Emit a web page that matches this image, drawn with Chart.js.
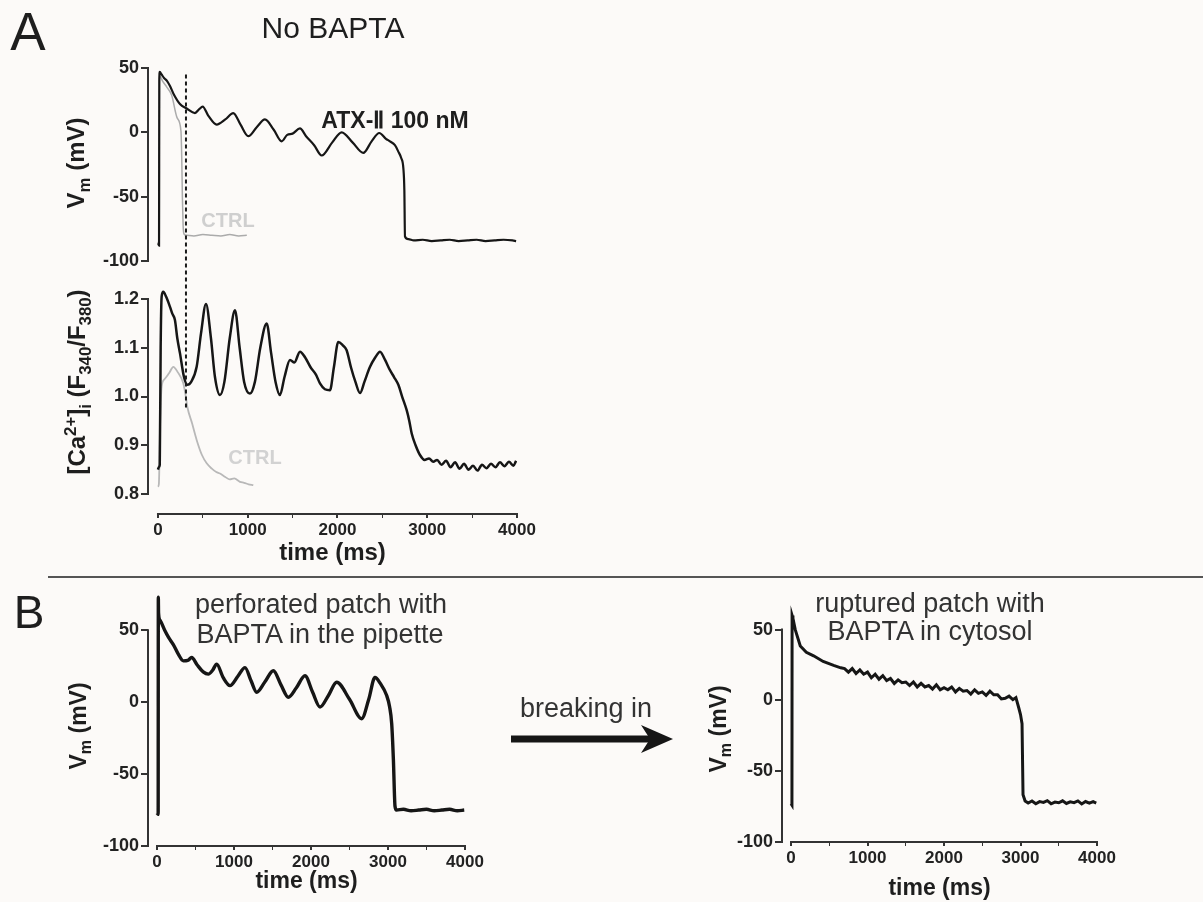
<!DOCTYPE html>
<html>
<head>
<meta charset="utf-8">
<script src="https://cdn.jsdelivr.net/npm/chart.js@4.4.1/dist/chart.umd.min.js"></script>
<style>
    html, body { margin: 0; padding: 0; background: #fcfaf8; }
    #page { position: relative; width: 1203px; height: 902px; overflow: hidden;
            font-family: "Liberation Sans", Arial, sans-serif; color: #1e1e1e; }
    canvas { position: absolute; }
    .lbl { position: absolute; white-space: nowrap; line-height: 1; transform: translate(-50%, -50%); }
    .rot { transform: translate(-50%, -50%) rotate(-90deg); font-weight: bold; }
    .rot sub, .rot sup { font-size: 70%; line-height: 0; }
    .sep { position: absolute; left: 48px; top: 576px; width: 1155px; height: 2px; background: #555; }
</style>
</head>
<body>
<div id="page">
    <canvas id="chartA" width="560" height="570" style="left:0;top:0"></canvas>
    <canvas id="chartB1" width="500" height="320" style="left:0;top:580px"></canvas>
    <canvas id="chartB2" width="520" height="322" style="left:600px;top:580px"></canvas>

    <div class="lbl" style="left:28px;top:31px;font-size:53px">A</div>
    <div class="lbl" style="left:333px;top:28px;font-size:30px">No BAPTA</div>
    <div class="lbl" style="left:395px;top:120px;font-size:23px;font-weight:bold">ATX-Ⅱ 100 nM</div>
    <div class="lbl" style="left:228px;top:220px;font-size:20px;font-weight:bold;color:#cfcfcf">CTRL</div>
    <div class="lbl" style="left:255px;top:457px;font-size:20px;font-weight:bold;color:#d2d2d2">CTRL</div>
    <div class="lbl rot" style="left:76px;top:163px;font-size:24px">V<sub>m</sub> (mV)</div>
    <div class="lbl rot" style="left:77px;top:382px;font-size:24px">[Ca<sup>2+</sup>]<sub>i</sub> (F<sub>340</sub>/F<sub>380</sub>)</div>

    <div class="sep"></div>

    <div class="lbl" style="left:29px;top:612px;font-size:46px">B</div>
    <div class="lbl" style="left:321px;top:604px;font-size:27px;color:#333">perforated patch with</div>
    <div class="lbl" style="left:320px;top:634px;font-size:27px;color:#333">BAPTA in the pipette</div>
    <div class="lbl rot" style="left:78px;top:726px;font-size:23px">V<sub>m</sub> (mV)</div>
    <div class="lbl" style="left:586px;top:708px;font-size:27px;color:#333">breaking in</div>
    <svg style="position:absolute;left:500px;top:720px" width="180" height="40">
        <rect x="11" y="15.5" width="140" height="7" fill="#161616"></rect>
        <polygon points="173,19 141,5 150,19 141,33" fill="#161616"></polygon>
    </svg>
    <div class="lbl" style="left:930px;top:603px;font-size:27px;color:#333">ruptured patch with</div>
    <div class="lbl" style="left:930px;top:631px;font-size:27px;color:#333">BAPTA in cytosol</div>
    <div class="lbl rot" style="left:718px;top:729px;font-size:23px">V<sub>m</sub> (mV)</div>
</div>

<script>
// ---- panel A: no BAPTA, ATX-II 100 nM vs control ----
const atxVmTime = [0, 12, 15, 20, 40, 70, 100, 134, 180, 245, 320, 412, 460, 498, 560, 654, 750, 839, 920, 1006,
    1100, 1192, 1290, 1378, 1440, 1500, 1582, 1650, 1740, 1824, 1940, 2047, 2170, 2288, 2380, 2466, 2540, 2585, 2640, 2678,
    2710, 2734, 2745, 2752, 2790, 2850, 2950, 3050, 3150, 3250, 3350, 3450, 3550, 3650, 3750, 3850, 3950, 3990];
const atxVm = [-86, -88, 40, 47, 45, 42, 40, 36, 29, 22, 18.5, 15, 18, 20, 13, 6, 10, 15, 6, -3,
    4, 10, 2, -7, -2, -1, 3, -3, -10, -18, -8, 0, -8, -16, -7, -0.5, -5, -7, -10, -15,
    -20, -28, -45, -81, -83, -84, -83.5, -84.5, -84, -83.5, -84.5, -84, -83.5, -84.5, -84, -83.5, -84, -84.5];

const ctrlVmTime = [0, 12, 15, 20, 50, 100, 152, 215, 256, 265, 272, 280, 290, 320, 400, 500, 600, 700, 800, 900, 990];
const ctrlVm = [-85, -87, 38, 44, 40, 35, 29, 11, 1, -20, -50, -72, -79, -80, -80.5, -79.5, -80, -80.5, -79.5, -80.5, -80];

const atxCaTime = [0, 10, 20, 30, 41, 59, 90, 134, 160, 189, 215, 245, 290, 327, 370, 431, 480, 535, 590, 635,
    691, 740, 800, 858, 910, 960, 1025, 1080, 1140, 1211, 1260, 1310, 1359, 1410, 1471, 1520, 1582, 1640, 1700, 1760,
    1805, 1860, 1916, 1960, 2009, 2060, 2102, 2150, 2200, 2251, 2300, 2360, 2420, 2474, 2530, 2585, 2630, 2678, 2720, 2771,
    2800, 2827, 2870, 2919, 2970, 3020, 3067, 3110, 3160, 3210, 3260, 3310, 3360, 3410, 3460, 3510, 3560, 3610, 3660, 3710,
    3760, 3810, 3860, 3910, 3960, 3990];
const atxCa = [0.85, 0.855, 0.86, 1.1, 1.205, 1.215, 1.205, 1.184, 1.17, 1.157, 1.12, 1.089, 1.04, 1.024, 1.03, 1.061, 1.13, 1.19, 1.12, 1.04,
    1.003, 1.03, 1.12, 1.177, 1.1, 1.03, 1.006, 1.03, 1.1, 1.15, 1.09, 1.03, 1.003, 1.04, 1.075, 1.07, 1.092, 1.08, 1.06, 1.045,
    1.027, 1.015, 1.013, 1.06, 1.112, 1.105, 1.095, 1.06, 1.03, 1.007, 1.03, 1.06, 1.08, 1.092, 1.075, 1.054, 1.04, 1.024, 1.0, 0.972,
    0.95, 0.924, 0.9, 0.88, 0.87, 0.873, 0.866, 0.87, 0.86, 0.868, 0.855, 0.865, 0.852, 0.862, 0.85, 0.858, 0.848, 0.86, 0.853, 0.862,
    0.855, 0.865, 0.857, 0.866, 0.858, 0.868];

const ctrlCaTime = [0, 10, 25, 41, 70, 97, 130, 171, 220, 282, 310, 327, 380, 431, 490, 543, 600, 650, 691, 750, 800, 850, 914, 960, 1010, 1062];
const ctrlCa = [0.815, 0.82, 0.95, 1.02, 1.035, 1.041, 1.05, 1.061, 1.05, 1.027, 1.0, 0.979, 0.945, 0.911, 0.88, 0.863, 0.852, 0.845, 0.842, 0.835,
    0.83, 0.832, 0.825, 0.823, 0.82, 0.818];

// dotted marker across both A panels
const dashTime = 312;
const dashVm = 45;
const dashCa = 0.975;

// ---- panel B: perforated patch, then ruptured patch ----
const perfTime = [0, 15, 17, 20, 39, 100, 150, 212, 280, 342, 400, 450, 520, 600, 667, 720, 775, 860, 948, 1050,
    1143, 1220, 1294, 1400, 1511, 1610, 1706, 1810, 1922, 2020, 2117, 2230, 2333, 2500, 2658, 2750, 2831, 2900, 2983, 3020,
    3048, 3070, 3091, 3110, 3200, 3300, 3400, 3500, 3600, 3700, 3800, 3900, 3990];
const perfVm = [-77, -78, 73, 62, 57, 50, 45, 40, 33, 28.7, 29, 31, 26, 21, 19.5, 22, 26.4, 17, 11.5, 18,
    24, 15, 6.9, 14, 21.8, 12, 3.4, 10, 18.3, 7, -3.4, 5, 13.8, 2, -11.5, 2, 17.2, 13, 4.6, -3,
    -15, -40, -72.4, -75, -74.5, -75.5, -75, -74.5, -75.5, -75, -74.5, -75.5, -75];

const rupTime = [0, 12, 14, 25, 56, 121, 200, 295, 420, 557, 650, 700, 750, 800, 850, 900, 950, 1000, 1050, 1100,
    1150, 1200, 1250, 1300, 1350, 1400, 1450, 1500, 1550, 1600, 1650, 1700, 1750, 1800, 1850, 1900, 1950, 2000, 2050, 2100,
    2150, 2200, 2250, 2300, 2350, 2400, 2450, 2500, 2550, 2600, 2650, 2700, 2750, 2800, 2850, 2900, 2940, 2976, 3000, 3020,
    3033, 3060, 3100, 3150, 3200, 3250, 3300, 3350, 3400, 3450, 3500, 3550, 3600, 3650, 3700, 3750, 3800, 3850, 3900, 3950, 3990];
const rupVm = [-73, -74, 60, 58, 49.8, 38.4, 34, 31.5, 27.5, 24.7, 23, 22.5, 20, 22.5, 19, 21.5, 18.5, 20, 16, 18.5,
    15, 17.5, 14, 15.5, 12, 14.5, 12.5, 13, 10.5, 13, 9.5, 12, 9.5, 10.5, 8, 11, 7.5, 9, 7.5, 9.5,
    6, 8.5, 6.5, 7, 4.5, 7.5, 5, 6, 3.5, 6.5, 4, 4, 1, 1.5, 3, 0.5, 2, -5, -10, -16.4,
    -66.6, -71, -72.5, -71, -73, -71.5, -72, -70.8, -73, -71.8, -72.3, -70.9, -72.8, -71.6, -72.2, -71, -73.1, -71.4, -72.6, -71.5, -72.5];

// ---- axes ----
const timeTicks = [0, 1000, 2000, 3000, 4000];
const timeMinorTicks = [500, 1500, 2500, 3500];
const vmTicks = [-100, -50, 0, 50];
const caTicks = [0.8, 0.9, 1.0, 1.1, 1.2];

Chart.defaults.font.family = '"Liberation Sans", Arial, sans-serif';
Chart.defaults.color = '#222';

const ink = '#161616';
const axisInk = '#333';

const pts = (t, v) => t.map((x, i) => ({x: x, y: v[i]}));

function trace(t, v, color, width, yId, smooth) {
    return {
        data: pts(t, v),
        yAxisID: yId,
        borderColor: color,
        borderWidth: width,
        pointRadius: 0,
        cubicInterpolationMode: smooth ? 'monotone' : 'default',
        tension: 0,
        fill: false
    };
}

// graphpad style axis lines that only cover the labelled range
function axisLines(lines) {
    return {
        id: 'axisLines',
        afterDraw(chart) {
            const ctx = chart.ctx;
            ctx.save();
            ctx.strokeStyle = axisInk;
            ctx.lineWidth = 2;
            lines.forEach(l => {
                const s = chart.scales[l[0]];
                ctx.beginPath();
                if (s.isHorizontal()) {
                    ctx.moveTo(s.getPixelForValue(l[1]) - 1, s.top);
                    ctx.lineTo(s.getPixelForValue(l[2]) + 1, s.top);
                } else {
                    ctx.moveTo(s.right, s.getPixelForValue(l[1]) + 1);
                    ctx.lineTo(s.right, s.getPixelForValue(l[2]) - 1);
                }
                ctx.stroke();
            });
            ctx.restore();
        }
    };
}

const dashMarker = {
    id: 'dashMarker',
    afterDatasetsDraw(chart) {
        const ctx = chart.ctx;
        const x = chart.scales.x.getPixelForValue(dashTime);
        ctx.save();
        ctx.strokeStyle = '#1a1a1a';
        ctx.lineWidth = 2;
        ctx.setLineDash([4, 3]);
        ctx.beginPath();
        ctx.moveTo(x, chart.scales.yVm.getPixelForValue(dashVm));
        ctx.lineTo(x, chart.scales.yCa.getPixelForValue(dashCa));
        ctx.stroke();
        ctx.restore();
    }
};

function timeScale(min, height, titleSize, titlePad) {
    return {
        type: 'linear',
        position: 'bottom',
        min: min,
        max: 4000,
        afterBuildTicks: s => {
            s.ticks = timeTicks.concat(timeMinorTicks).sort((a, b) => a - b).map(v => ({value: v}));
        },
        afterFit: s => { s.height = height; },
        border: {display: false},
        grid: {
            drawOnChartArea: false,
            tickLength: 4,
            color: axisInk,
            lineWidth: c => (c.tick && timeTicks.includes(c.tick.value)) ? 2 : 1
        },
        ticks: {
            autoSkip: false,
            maxRotation: 0,
            padding: 2,
            font: {size: 17, weight: 'bold'},
            callback: v => timeTicks.includes(v) ? String(v) : ''
        },
        title: {
            display: true,
            text: 'time (ms)',
            color: '#1e1e1e',
            font: {size: titleSize, weight: 'bold'},
            padding: {top: 0, bottom: titlePad}
        }
    };
}

function valueScale(min, max, width, tickVals, fmt, extra) {
    return Object.assign({
        type: 'linear',
        position: 'left',
        min: min,
        max: max,
        afterBuildTicks: s => { s.ticks = tickVals.map(v => ({value: v})); },
        afterFit: s => { s.width = width; },
        border: {display: false},
        grid: {drawOnChartArea: false, tickLength: 7, color: axisInk, lineWidth: 2},
        ticks: {padding: 2, font: {size: 18, weight: 'bold'}, callback: fmt}
    }, extra || {});
}

const baseOptions = (padding, scales) => ({
    responsive: false,
    animation: false,
    events: [],
    layout: {padding: padding},
    plugins: {legend: {display: false}, tooltip: {enabled: false}},
    scales: scales
});

// panel A: two stacked value axes sharing one time axis
new Chart(document.getElementById('chartA'), {
    type: 'line',
    data: {
        datasets: [
            trace(atxVmTime, atxVm, ink, 2.2, 'yVm', true),
            trace(ctrlVmTime, ctrlVm, '#ababab', 1.5, 'yVm', true),
            trace(atxCaTime, atxCa, ink, 2.5, 'yCa', true),
            trace(ctrlCaTime, ctrlCa, '#b8b8b8', 1.8, 'yCa', true)
        ]
    },
    options: baseOptions({top: 68, left: 0, right: 43, bottom: 0}, {
        x: timeScale(-111, 56, 24, 2),
        yVm: valueScale(-100, 50, 148, vmTicks, v => String(v), {stack: 'a', stackWeight: 193, weight: 2}),
        yCa: valueScale(0.759, 1.278, 148, caTicks, v => v.toFixed(1), {stack: 'a', stackWeight: 253, weight: 1})
    }),
    plugins: [axisLines([['x', 0, 4000], ['yVm', -100, 50], ['yCa', 0.8, 1.2]]), dashMarker]
});

// panel B, left: perforated patch
new Chart(document.getElementById('chartB1'), {
    type: 'line',
    data: {datasets: [trace(perfTime, perfVm, ink, 3.4, 'y', true)]},
    options: baseOptions({top: 8, left: 0, right: 35, bottom: 0}, {
        x: timeScale(-117, 54, 23, 5),
        y: valueScale(-100, 76, 148, vmTicks, v => String(v))
    }),
    plugins: [axisLines([['x', 0, 4000], ['y', -100, 50]])]
});

// panel B, right: ruptured patch
new Chart(document.getElementById('chartB2'), {
    type: 'line',
    data: {datasets: [trace(rupTime, rupVm, ink, 3, 'y', false)]},
    options: baseOptions({top: 5, left: 0, right: 23, bottom: 0}, {
        x: timeScale(-118, 60, 23, 0),
        y: valueScale(-100, 76, 182, vmTicks, v => String(v))
    }),
    plugins: [axisLines([['x', 0, 4000], ['y', -100, 50]])]
});
</script>
</body>
</html>
